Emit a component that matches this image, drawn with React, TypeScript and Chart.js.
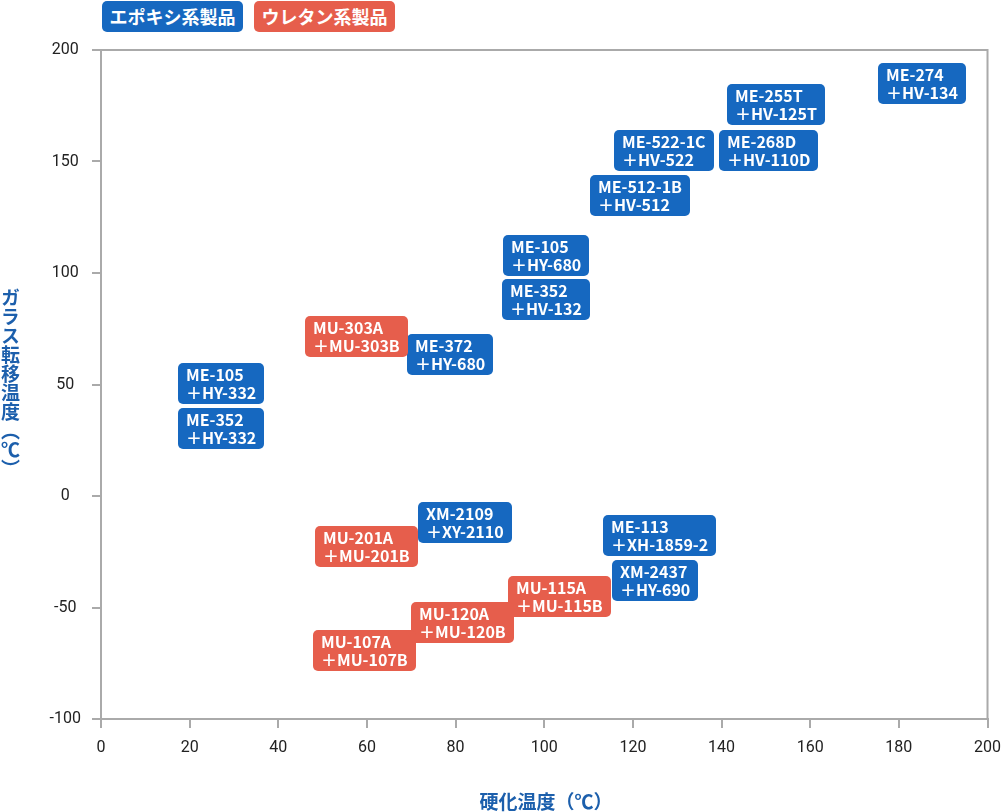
import React, { useEffect, useRef } from "react";
import { Chart, registerables } from "chart.js";
Chart.register(...registerables);

// Epoxy products (label line 1, line 2, cure temp, Tg)
const epoxyLine1 = ["ME-105", "ME-352", "ME-372", "ME-105", "ME-352", "ME-512-1B", "ME-522-1C", "ME-268D", "ME-255T", "ME-274", "XM-2109", "ME-113", "XM-2437"];
const epoxyLine2 = ["＋HY-332", "＋HY-332", "＋HY-680", "＋HY-680", "＋HV-132", "＋HV-512", "＋HV-522", "＋HV-110D", "＋HV-125T", "＋HV-134", "＋XY-2110", "＋XH-1859-2", "＋HY-690"];
const epoxyCure = [27.1, 27.1, 78.8, 100.3, 100.3, 121.6, 127.1, 150.6, 152.2, 185.3, 82.1, 125.9, 124.9];
const epoxyTg = [50.4, 30.3, 63.5, 107.8, 87.9, 134.8, 154.9, 154.9, 175.6, 184.8, -12.1, -17.7, -37.9];

// Urethane products
const urethaneLine1 = ["MU-303A", "MU-201A", "MU-115A", "MU-120A", "MU-107A"];
const urethaneLine2 = ["＋MU-303B", "＋MU-201B", "＋MU-115B", "＋MU-120B", "＋MU-107B"];
const urethaneCure = [57.6, 60.0, 103.4, 81.6, 59.4];
const urethaneTg = [71.5, -22.6, -45.1, -56.7, -69.3];

const legendLabels = ["エポキシ系製品", "ウレタン系製品"];
const xAxisTitle = "硬化温度（℃）";
const yAxisTitle = "ガラス転移温度（℃）";
const xMin = 0, xMax = 200, xStep = 20;
const yMin = -100, yMax = 200, yStep = 50;

const BLUE = "#1668c0";
const RED = "#e65e4c";
const TITLE_BLUE = "#1c5fac";
const AXIS_GRAY = "#aaaaaa";

const labelBoxes = {
  id: "labelBoxes",
  afterDatasetsDraw(chart: any) {
    const ctx = chart.ctx;
    const xs = chart.scales.x;
    const ys = chart.scales.y;
    ctx.save();
    ctx.font = "bold 16px 'Noto Sans CJK JP'";
    chart.data.datasets.forEach((ds: any) => {
      ds.data.forEach((p: any) => {
        const cx = xs.getPixelForValue(p.x);
        const cy = ys.getPixelForValue(p.y);
        const w = Math.round(Math.max(ctx.measureText(p.l1).width, ctx.measureText(p.l2).width) + 16);
        const h = 41;
        const left = Math.round(cx - w / 2);
        const top = Math.round(cy - h / 2);
        ctx.fillStyle = ds.boxColor;
        ctx.beginPath();
        ctx.roundRect(left, top, w, h, 5);
        ctx.fill();
        ctx.fillStyle = "#ffffff";
        ctx.textAlign = "left";
        ctx.textBaseline = "middle";
        ctx.fillText(p.l1, left + 8, top + 12);
        ctx.fillText(p.l2, left + 8, top + 30);
      });
    });
    ctx.restore();
  },
};

const frame = {
  id: "frame",
  afterDraw(chart: any) {
    const { left, top, right, bottom } = chart.chartArea;
    const ctx = chart.ctx;
    ctx.save();
    ctx.strokeStyle = AXIS_GRAY;
    ctx.lineWidth = 2;
    ctx.beginPath();
    ctx.moveTo(left, top);
    ctx.lineTo(right, top);
    ctx.lineTo(right, bottom);
    ctx.stroke();
    ctx.restore();
  },
};

function makePoints(l1: string[], l2: string[], xs: number[], ys: number[]) {
  return xs.map((x, i) => ({ x, y: ys[i], l1: l1[i], l2: l2[i] }));
}

export default function App() {
  const ref = useRef<HTMLCanvasElement | null>(null);
  useEffect(() => {
    if (!ref.current) return;
    const chart = new Chart(ref.current, {
      type: "scatter",
      data: {
        datasets: [
          {
            label: legendLabels[0],
            data: makePoints(epoxyLine1, epoxyLine2, epoxyCure, epoxyTg),
            pointRadius: 0,
            boxColor: BLUE,
          } as any,
          {
            label: legendLabels[1],
            data: makePoints(urethaneLine1, urethaneLine2, urethaneCure, urethaneTg),
            pointRadius: 0,
            boxColor: RED,
          } as any,
        ],
      },
      options: {
        responsive: false,
        animation: false,
        layout: { padding: { top: 50, right: 13, left: 0, bottom: 0 } },
        plugins: { legend: { display: false }, tooltip: { enabled: false } },
        scales: {
          x: {
            type: "linear",
            min: xMin,
            max: xMax,
            afterFit: (s: any) => { s.height = 93; },
            ticks: { stepSize: xStep, color: "#222", font: { family: "Roboto", size: 16, lineHeight: "40px" }, padding: 0, maxRotation: 0 },
            grid: { drawOnChartArea: false, drawTicks: true, tickLength: 9, color: AXIS_GRAY, lineWidth: 2 },
            border: { display: true, color: AXIS_GRAY, width: 2 },
          },
          y: {
            type: "linear",
            min: yMin,
            max: yMax,
            afterFit: (s: any) => { s.width = 101; },
            ticks: { stepSize: yStep, color: "#222", font: { family: "Roboto", size: 16 }, padding: 11, crossAlign: "center" },
            grid: { drawOnChartArea: false, drawTicks: true, tickLength: 9, color: AXIS_GRAY, lineWidth: 2 },
            border: { display: true, color: AXIS_GRAY, width: 2 },
          },
        },
      },
      plugins: [labelBoxes, frame],
    });
    return () => chart.destroy();
  }, []);

  const legendBox = (text: string, color: string, left: number, width: number) => (
    <div
      style={{
        position: "absolute",
        left,
        top: 1,
        width,
        height: 31,
        background: color,
        borderRadius: 5,
        color: "#fff",
        fontFamily: "'Noto Sans CJK JP'",
        fontWeight: 700,
        fontSize: 18,
        lineHeight: "31px",
        textAlign: "center",
      }}
    >
      {text}
    </div>
  );

  return (
    <div style={{ position: "absolute", left: 0, top: 0, width: 1001, height: 812, background: "#fff", overflow: "hidden" }}>
      <canvas ref={ref} width={1001} height={812} style={{ position: "absolute", left: 0, top: 0 }} />
      {legendBox(legendLabels[0], BLUE, 102, 141)}
      {legendBox(legendLabels[1], RED, 254, 141)}
      <div
        style={{
          position: "absolute",
          left: 0,
          top: 288,
          width: 20,
          writingMode: "vertical-rl",
          textOrientation: "upright",
          fontFamily: "'Noto Sans CJK JP'",
          fontWeight: 700,
          fontSize: 19,
          lineHeight: "20px",
          color: TITLE_BLUE,
        }}
      >
        {yAxisTitle}
      </div>
      <div
        style={{
          position: "absolute",
          left: 446,
          width: 200,
          top: 789,
          textAlign: "center",
          fontFamily: "'Noto Sans CJK JP'",
          fontWeight: 700,
          fontSize: 19,
          lineHeight: "24px",
          color: TITLE_BLUE,
        }}
      >
        {xAxisTitle}
      </div>
    </div>
  );
}
